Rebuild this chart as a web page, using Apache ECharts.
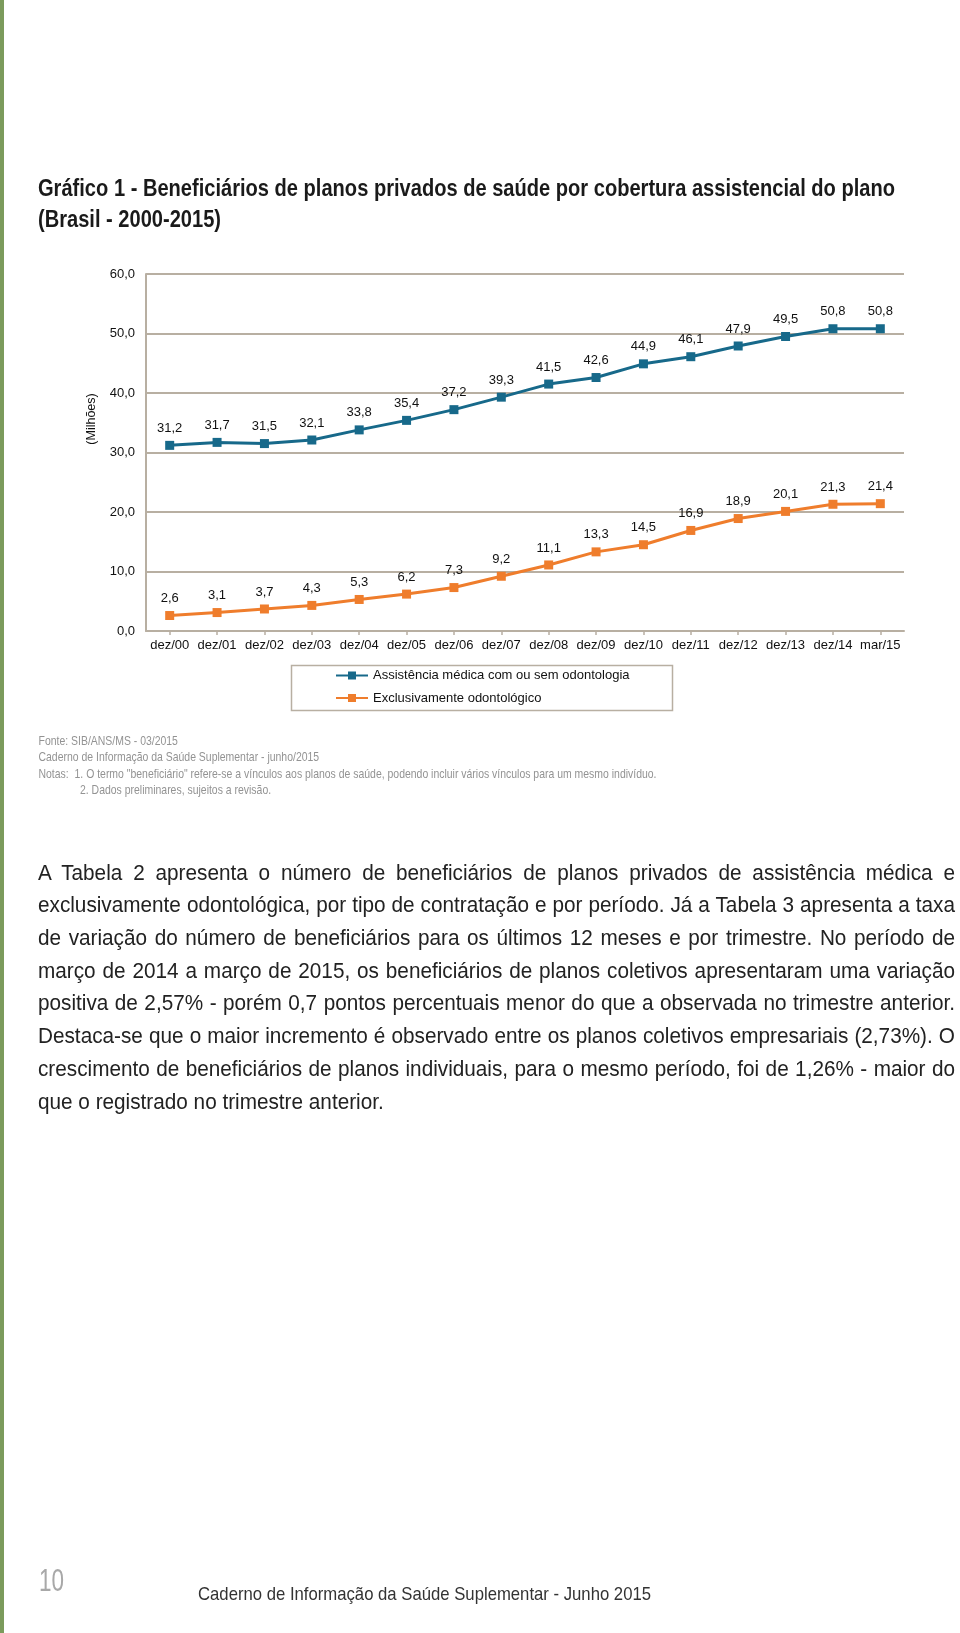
<!DOCTYPE html>
<html><head><meta charset="utf-8">
<script src="https://cdn.jsdelivr.net/npm/echarts@6/dist/echarts.min.js"></script>
<style>
html,body{margin:0;padding:0;background:#fff;}
#chart{position:absolute;left:0;top:0;width:960px;height:1633px;}
#para{position:absolute;left:38px;top:0;width:917px;font-family:"Liberation Sans",Arial,sans-serif;font-size:22.5px;color:#222;}
#para div{position:absolute;left:0;white-space:nowrap;text-align:justify;text-align-last:justify;line-height:26px;transform-origin:0 0;}
#para div.last{text-align:left;text-align-last:left;}
</style></head>
<body>
<div id="chart"></div>
<div id="para"></div>
<script>
// ---- data ----
const categories = ['dez/00','dez/01','dez/02','dez/03','dez/04','dez/05','dez/06','dez/07','dez/08','dez/09','dez/10','dez/11','dez/12','dez/13','dez/14','mar/15'];
const medica = [31.2,31.7,31.5,32.1,33.8,35.4,37.2,39.3,41.5,42.6,44.9,46.1,47.9,49.5,50.8,50.8];
const odonto = [2.6,3.1,3.7,4.3,5.3,6.2,7.3,9.2,11.1,13.3,14.5,16.9,18.9,20.1,21.3,21.4];
const seriesNames = ['Assistência médica com ou sem odontologia','Exclusivamente odontológico'];
const yMin = 0, yMax = 60, yStep = 10;
const yAxisName = '(Milhões)';
const titleLines = ['Gráfico 1 - Beneficiários de planos privados de saúde por cobertura assistencial do plano','(Brasil - 2000-2015)'];
const noteLines = ['Fonte: SIB/ANS/MS - 03/2015','Caderno de Informação da Saúde Suplementar - junho/2015','Notas:  1. O termo "beneficiário" refere-se a vínculos aos planos de saúde, podendo incluir vários vínculos para um mesmo indivíduo.','2. Dados preliminares, sujeitos a revisão.'];
const paragraphLines = [
 'A Tabela 2 apresenta o número de beneficiários de planos privados de assistência médica e',
 'exclusivamente odontológica, por tipo de contratação e por período. Já a Tabela 3 apresenta a taxa',
 'de variação do número de beneficiários para os últimos 12 meses e por trimestre. No período de',
 'março de 2014 a março de 2015, os beneficiários de planos coletivos apresentaram uma variação',
 'positiva de 2,57% - porém 0,7 pontos percentuais menor do que a observada no trimestre anterior.',
 'Destaca-se que o maior incremento é observado entre os planos coletivos empresariais (2,73%). O',
 'crescimento de beneficiários de planos individuais, para o mesmo período, foi de 1,26% - maior do',
 'que o registrado no trimestre anterior.'
];
const pageNumber = '10';
const footerText = 'Caderno de Informação da Saúde Suplementar - Junho 2015';

// ---- helpers ----
const sans = '"Liberation Sans",Arial,sans-serif';
const mctx = document.createElement('canvas').getContext('2d');
function measure(text, font){ mctx.font = font; return mctx.measureText(text).width; }

// ---- paragraph (HTML, justified, horizontally condensed) ----
const paraFont = '22.5px ' + sans;
const wLast = measure(paragraphLines[paragraphLines.length-1], paraFont);
const wMax = Math.max(...paragraphLines.slice(0,-1).map(t=>measure(t, paraFont)));
const sPara = Math.min(349 / wLast, 914 / wMax);
const para = document.getElementById('para');
paragraphLines.forEach((t,i)=>{
  const d = document.createElement('div');
  d.textContent = t;
  d.style.top = (859.5 + i*32.73) + 'px';
  d.style.width = (917 / sPara) + 'px';
  d.style.transform = 'scaleX(' + sPara + ')';
  if (i === paragraphLines.length-1) d.className = 'last';
  para.appendChild(d);
});

// ---- chart ----
const axisColor = '#b8afa2';
const blue = '#17698a';
const orange = '#ef7d2c';
const fmt = v => v.toFixed(1).replace('.', ',');

const chart = echarts.init(document.getElementById('chart'), null, {renderer:'canvas', width:960, height:1633});

function txt(x, y, text, font, fill, sx){
  return {type:'text', x:x, y:y, scaleX:sx||1, silent:true,
    style:{text:text, font:font, fill:fill, align:'left', verticalAlign:'middle', textAlign:'left', textVerticalAlign:'middle'}};
}

const titleFont = 'bold 24px ' + sans;
const sTitle = 857 / measure(titleLines[0], titleFont);
const noteFont = '13px ' + sans;
const sNote = 618 / measure(noteLines[2], noteFont);
const footFont = '19px ' + sans;
const sFoot = 453 / measure(footerText, footFont);
const pageFont = '31px ' + sans;
const sPage = 25 / measure(pageNumber, pageFont);

const graphics = [
  {type:'rect', shape:{x:0,y:0,width:4,height:1633}, style:{fill:'#7b9b5c'}, silent:true},
  txt(38, 189.5, titleLines[0], titleFont, '#1a1a1a', sTitle),
  txt(38, 220, titleLines[1], titleFont, '#1a1a1a', sTitle),
  {type:'text', x:92, y:419, rotation:Math.PI/2, silent:true,
    style:{text:yAxisName, font:'12.5px ' + sans, fill:'#111', align:'center', verticalAlign:'middle', textAlign:'center', textVerticalAlign:'middle'}},
  {type:'rect', shape:{x:291.5,y:665.5,width:381,height:45}, style:{fill:'none', stroke:axisColor, lineWidth:1.5}, silent:true},
  txt(38.5, 741, noteLines[0], noteFont, '#939393', sNote),
  txt(38.5, 757.5, noteLines[1], noteFont, '#939393', sNote),
  txt(38.5, 774, noteLines[2], noteFont, '#939393', sNote),
  txt(80, 790.5, noteLines[3], noteFont, '#939393', sNote),
  txt(39, 1582, pageNumber, pageFont, '#a8a8a8', sPage),
  txt(198, 1595, footerText, footFont, '#333', sFoot)
];

function lineSeries(name, data, color){
  return {
    name:name, type:'line', data:data,
    symbol:'rect', symbolSize:9,
    lineStyle:{color:color, width:3},
    itemStyle:{color:color},
    label:{show:true, position:'top', distance:6, color:'#111', fontSize:13, fontFamily:sans, formatter:p=>fmt(p.value)},
    emphasis:{disabled:true}
  };
}

chart.setOption({
  animation:false,
  textStyle:{fontFamily:sans},
  grid:{left:146, right:56, top:274, bottom:1002, containLabel:false},
  xAxis:{type:'category', data:categories, boundaryGap:true,
    axisLine:{lineStyle:{color:axisColor, width:2}},
    axisTick:{show:true, alignWithLabel:true, length:4, lineStyle:{color:axisColor, width:1.5}},
    axisLabel:{color:'#111', fontSize:13, margin:8, interval:0}},
  yAxis:{type:'value', min:yMin, max:yMax, interval:yStep,
    axisLine:{show:true, lineStyle:{color:axisColor, width:2}},
    axisTick:{show:false},
    splitLine:{lineStyle:{color:axisColor, width:2}},
    axisLabel:{color:'#111', fontSize:13, margin:11, formatter:v=>fmt(v)}},
  legend:{orient:'vertical', left:335, top:669, itemWidth:32, itemHeight:10, itemGap:9.5, padding:0,
    data:seriesNames, textStyle:{fontSize:13, color:'#111', fontFamily:sans}},
  series:[lineSeries(seriesNames[0], medica, blue), lineSeries(seriesNames[1], odonto, orange)],
  graphic:graphics
});
</script>
</body></html>
